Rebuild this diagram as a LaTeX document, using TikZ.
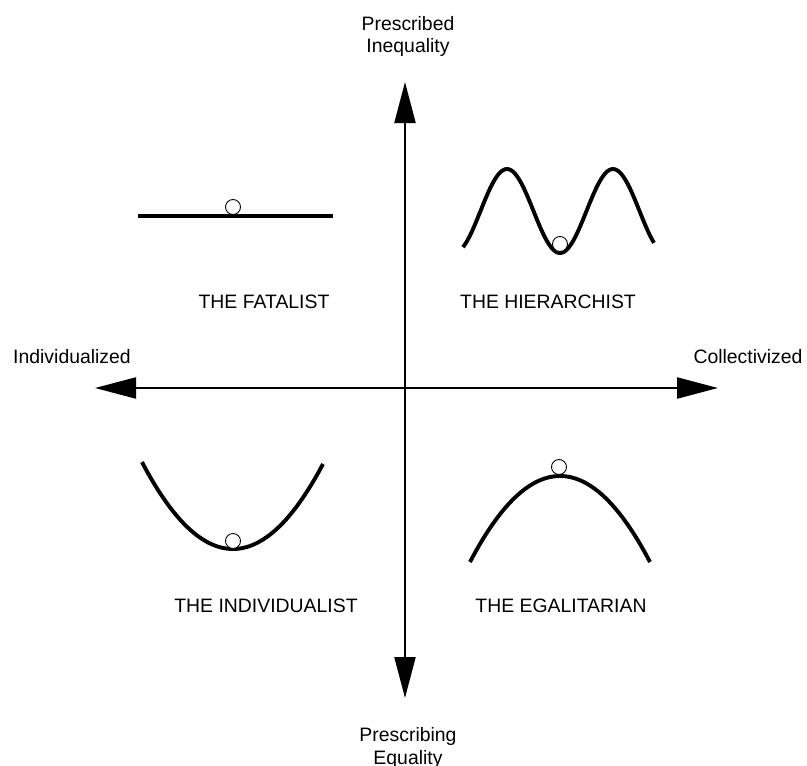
\documentclass[tikz,border=0pt]{standalone}
\usepackage{fontspec}
\setmainfont{Liberation Sans}
\usetikzlibrary{arrows.meta}
\begin{document}
\begin{tikzpicture}[x=1pt,y=-1pt,
  axisline/.style={line width=2.2pt,{Triangle[length=41pt,width=21pt]}-{Triangle[length=41pt,width=21pt]}},
  curve/.style={line width=3.9pt},
  ball/.style={draw,line width=0.9pt,circle,minimum size=15pt,inner sep=0pt,fill=white},
  lbl/.style={font=\fontsize{19.4}{22.5}\selectfont,inner sep=0pt,align=center}]
\useasboundingbox (0,0) rectangle (807,766);
% axes
\coordinate (L) at (95,388);
\coordinate (R) at (718,388);
\coordinate (T) at (405,82);
\coordinate (B) at (405,698);
\draw[axisline] (L) -- (R);
\draw[axisline] (T) -- (B);
% axis labels
\node[lbl] (top) at (408,36.5) {Prescribed\\Inequality};
\node[lbl] (bottom) at (408,748) {Prescribing\\Equality};
\node[lbl,anchor=base] (left) at (72,363) {Individualized};
\node[lbl,anchor=base] (right) at (748,363) {Collectivized};
% fatalist
\draw[curve] (138,216) -- (333,216);
\node[ball] (b1) at (233,207) {};
\node[lbl] (fat) at (264,302) {THE FATALIST};
% hierarchist
\draw[curve] plot[domain=-44:147,samples=120,smooth] ({\x+507},{211-42*cos(3.3962*\x)});
\node[ball] (b2) at (560,244) {};
\node[lbl] (hier) at (548,302) {THE HIERARCHIST};
% individualist
\draw[curve] plot[domain=-91:90,samples=80,smooth] ({\x+233},{549-85*(\x/90)^2});
\node[ball] (b3) at (233,541) {};
\node[lbl] (ind) at (266,606) {THE INDIVIDUALIST};
% egalitarian
\draw[curve] plot[domain=-90:90,samples=80,smooth] ({\x+560},{476+86*(\x/90)^2});
\node[ball] (b4) at (559,467) {};
\node[lbl] (ega) at (561,606) {THE EGALITARIAN};
\end{tikzpicture}
\end{document}
